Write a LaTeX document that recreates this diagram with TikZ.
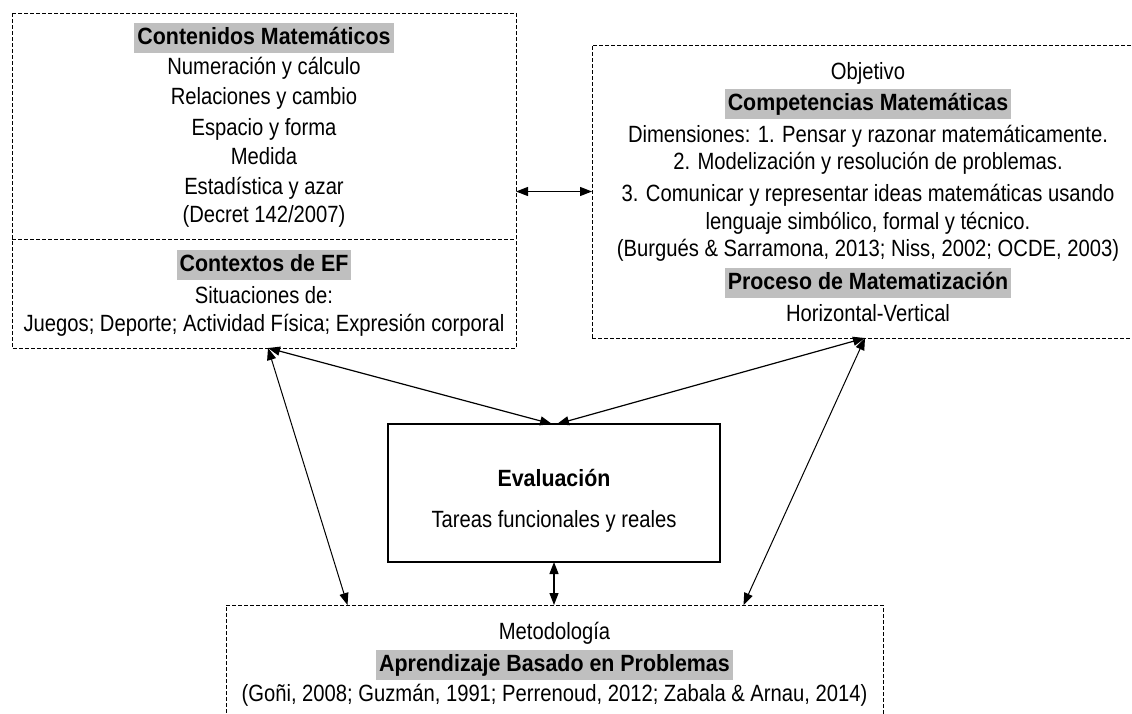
\documentclass[tikz,border=0pt]{standalone}
\usepackage{fontspec}
\setmainfont{Liberation Sans}[FakeStretch=0.86, BoldFeatures={FakeStretch=0.91}]
\usetikzlibrary{arrows.meta, positioning}

\newcommand{\bodysize}{\fontsize{23.5}{27}\selectfont}

\tikzset{
  area/.style={inner sep=0pt, outer sep=0pt},
  dline/.style={dash pattern=on 4pt off 2pt, line width=1pt},
  dbox/.style={draw, dline, inner sep=0pt, outer sep=0pt},
  sbox/.style={draw, line width=1.5pt, inner sep=0pt, outer sep=0pt},
  txt/.style={anchor=center, inner sep=0pt, text height=17pt, text depth=5pt},
  hl/.style={anchor=center, fill=gray!50, font=\bodysize\bfseries, inner xsep=3pt, inner ysep=3.5pt,
             text height=18pt, text depth=5pt},
  link/.style={<->, >={Triangle[length=12pt,width=9pt]}, line width=1.2pt},
}

\begin{document}
\begin{tikzpicture}[x=1pt, y=-1pt, font=\bodysize, on grid, node distance=30pt]
    \useasboundingbox (0,0) rectangle (1132,713);

    % Add the boxes
        \node[area, minimum width=504pt, minimum height=226pt] (cont) at (264,126) {};
        \node[area, minimum width=504pt, minimum height=109pt] (ctx) at (264,293.5) {};
        \draw[dline] (cont.north west) rectangle (ctx.south east);
        \draw[dline] (ctx.north west) -- (ctx.north east);
        \node[dbox, minimum width=552pt, minimum height=293pt] (obj) at (868,191.5) {};
        \node[sbox, minimum width=332pt, minimum height=138pt] (eval) at (554,493) {};
        \node[dbox, minimum width=657pt, minimum height=130pt] (met) at (554.5,670) {};

    % Contenidos
        \node[below=25pt of cont.north, hl] (cmat) {Contenidos Matemáticos};
        \node[below=of cmat, txt] (num) {Numeración y cálculo};
        \node[below=of num, txt] (rel) {Relaciones y cambio};
        \node[below=31pt of rel, txt] (esp) {Espacio y forma};
        \node[below=29pt of esp, txt] (med) {Medida};
        \node[below=of med, txt] (est) {Estadística y azar};
        \node[below=28pt of est, txt] (dec) {(Decret 142/2007)};

    % Contextos
        \node[below=26pt of ctx.north, hl] (cef) {Contextos de EF};
        \node[below=32pt of cef, txt] (sit) {Situaciones de:};
        \node[below=28pt of sit, txt] (jue) {Juegos; Deporte; Actividad Física; Expresión corporal};

    % Objetivo
        \node[below=28pt of obj.north, txt] (objt) {Objetivo};
        \node[below=31pt of objt, hl] (cmt) {Competencias Matemáticas};
        \node[below=32pt of cmt, txt] (dim1) {Dimensiones: 1. Pensar y razonar matemáticamente.};
        \node[below=27pt of dim1, txt] (dim2) {2. Modelización y resolución de problemas.};
        \node[below=32pt of dim2, txt] (dim3) {3. Comunicar y representar ideas matemáticas usando};
        \node[below=28pt of dim3, txt] (leng) {lenguaje simbólico, formal y técnico.};
        \node[below=27pt of leng, txt] (burg) {(Burgués \& Sarramona, 2013; Niss, 2002; OCDE, 2003)};
        \node[below=33pt of burg, hl] (proc) {Proceso de Matematización};
        \node[below=32pt of proc, txt] (hor) {Horizontal-Vertical};

    % Evaluacion
        \node[below=56pt of eval.north, txt, font=\bodysize\bfseries] (evt) {Evaluación};
        \node[below=41pt of evt, txt] (tar) {Tareas funcionales y reales};

    % Metodologia
        \node[below=28pt of met.north, txt] (metd) {Metodología};
        \node[below=32pt of metd, hl] (abp) {Aprendizaje Basado en Problemas};
        \node[below=30pt of abp, txt] (gon) {(Goñi, 2008; Guzmán, 1991; Perrenoud, 2012; Zabala \& Arnau, 2014)};

    % Connectors
        \draw[link] (obj.west) -- (obj.west -| cont.east);
        \draw[link] ([xshift=4pt]ctx.south) -- ([xshift=-2pt]eval.north);
        \draw[link, line width=1pt] ([xshift=4pt]ctx.south) -- ([xshift=-207pt]met.north);
        \draw[link] ([xshift=-3pt]obj.south) -- ([xshift=3pt]eval.north);
        \draw[link, line width=1pt] ([xshift=-3pt]obj.south) -- ([xshift=189pt]met.north);
        \draw[link] (eval.south) -- (eval.south |- met.north);
\end{tikzpicture}
\end{document}
